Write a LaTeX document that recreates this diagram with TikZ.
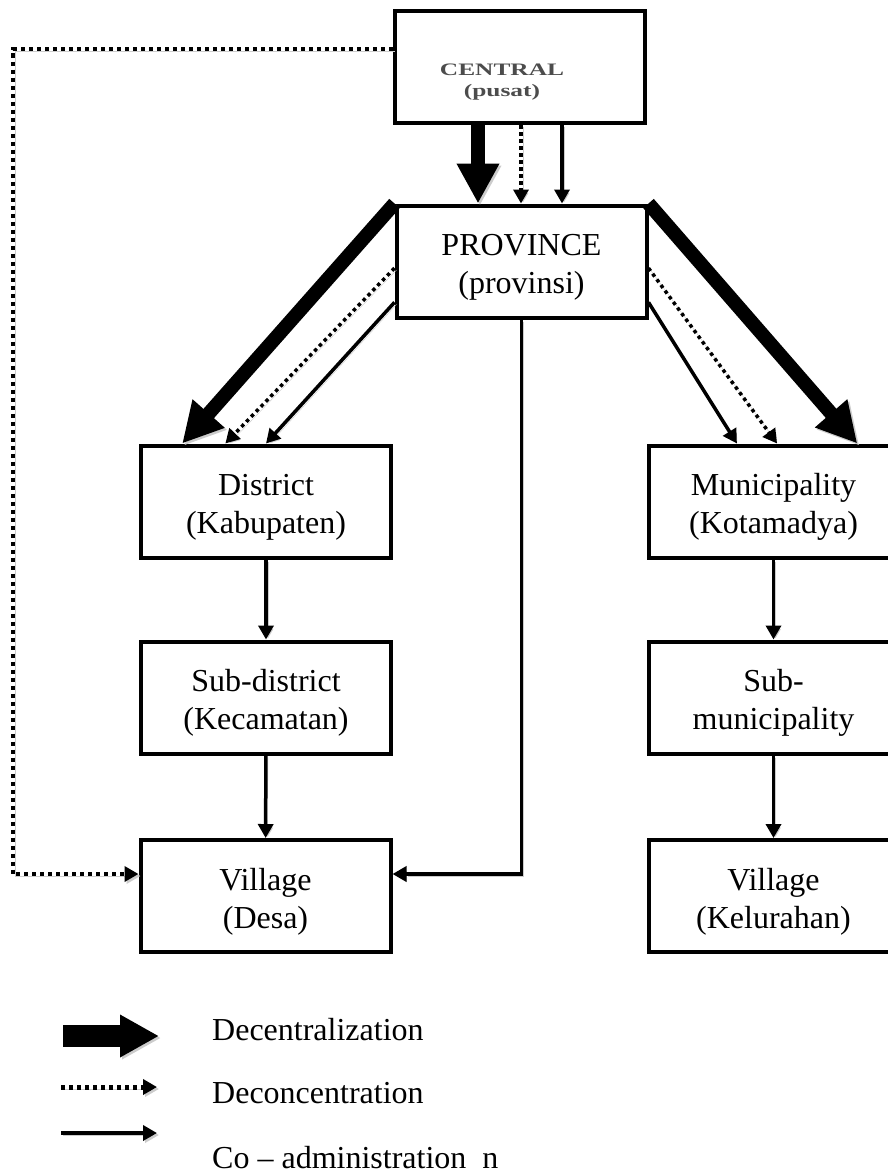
\documentclass[tikz,border=0pt]{standalone}
\usepackage{fontspec}
\setmainfont{Liberation Serif}
\usepackage{graphicx}
\usetikzlibrary{arrows.meta,calc}
\begin{document}
\begin{tikzpicture}[x=1pt,y=-1pt,
  box/.style={draw, line width=4pt, minimum width=250pt, minimum height=112pt, inner sep=0pt},
  boxtext/.style={align=center, font=\fontsize{32}{38}\selectfont, inner sep=0pt},
  shadowed/.style={preaction={draw=black!20, transform canvas={shift={(2pt,-2pt)}}}},
  bigarrow/.style={shadowed, line width=14pt, -{Triangle[width=40pt,length=40pt]}},
  dotarrow/.style={shadowed, line width=3.5pt, dash pattern=on 3.5pt off 3.5pt, -{Triangle[width=15pt,length=14pt]}},
  solidarrow/.style={shadowed, line width=3.5pt, -{Triangle[width=15pt,length=14pt]}},
  legtext/.style={anchor=base west, font=\fontsize{32}{38}\selectfont, inner sep=0pt},
  centraltext/.style={anchor=base, inner sep=0pt, text=black!70, font=\bfseries}
]
\useasboundingbox (0,0) rectangle (888,1175);
\clip (0,0) rectangle (888,1175);

% boxes
\node[box] (central) at (519.5,67) {};
\node[centraltext] (centralA) at (502,75) {\scalebox{1.45}[1]{\fontsize{17.5}{20}\selectfont CENTRAL}};
\node[centraltext] (centralB) at (502,96) {\scalebox{1.45}[1]{\fontsize{17.5}{20}\selectfont (pusat)}};

\node[box] (prov) at (521.5,261.5) {};
\node[boxtext] (provT) at ([yshift=-5.5pt]prov.center) {PROVINCE\\(provinsi)};

\node[box] (dist) at (266,501.5) {};
\node[boxtext] (distT) at ([yshift=-5.5pt]dist.center) {District\\(Kabupaten)};

\node[box] (muni) at (773.5,501.5) {};
\node[boxtext] (muniT) at ([yshift=-5.5pt]muni.center) {Municipality\\(Kotamadya)};

\node[box] (subd) at (266,697.5) {};
\node[boxtext] (subdT) at ([yshift=-5.5pt]subd.center) {Sub-district\\(Kecamatan)};

\node[box] (subm) at (773.5,697.5) {};
\node[boxtext] (submT) at ([yshift=-5.5pt]subm.center) {Sub-\\municipality};

\node[box] (desa) at (265.5,896) {};
\node[boxtext] (desaT) at ([yshift=-5.5pt]desa.center) {Village\\(Desa)};

\node[box] (kel) at (773.5,896) {};
\node[boxtext] (kelT) at ([yshift=-5.5pt]kel.center) {Village\\(Kelurahan)};

% helper coordinates
\coordinate (cx1) at (478,0);
\coordinate (cx2) at (521,0);
\coordinate (cx3) at (562,0);
\coordinate (ey) at (0,874);
\coordinate (dx) at (13,49);

% central -> province
\draw[bigarrow] (central.south -| cx1) -- (prov.north -| cx1);
\draw[dotarrow] (central.south -| cx2) -- (prov.north -| cx2);
\draw[solidarrow] (central.south -| cx3) -- (prov.north -| cx3);

% province -> district
\draw[bigarrow] (prov.north west) -- ($(dist.north west)!0.17!(dist.north east)$);
\draw[dotarrow] ($(prov.north west)!0.557!(prov.south west)$) -- ($(dist.north west)!0.34!(dist.north east)$);
\draw[solidarrow] ($(prov.north west)!0.852!(prov.south west)$) -- ($(dist.north west)!0.50!(dist.north east)$);

% province -> municipality
\draw[bigarrow] (prov.north east) -- ($(muni.north west)!0.83!(muni.north east)$);
\draw[dotarrow] ($(prov.north east)!0.557!(prov.south east)$) -- ($(muni.north west)!0.514!(muni.north east)$);
\draw[solidarrow] ($(prov.north east)!0.852!(prov.south east)$) -- ($(muni.north west)!0.356!(muni.north east)$);

% vertical chains
\draw[solidarrow] (dist) -- (subd);
\draw[solidarrow] (subd) -- (desa);
\draw[solidarrow] (muni) -- (subm);
\draw[solidarrow] (subm) -- (kel);

% province -> village (desa)
\draw[solidarrow] (prov.south) -- (prov.south |- ey) -- (desa.east |- ey);

% central -> village (desa), dotted
\draw[dotarrow, line width=4.5pt, dash pattern=on 4pt off 4pt] (central.west |- dx) -- (dx) -- (dx |- ey) -- (desa.west |- ey);

% legend
\coordinate (l1a) at (63,1036);
\coordinate (l1b) at (159,1036);
\coordinate (l2a) at (61,1087);
\coordinate (l2b) at (157,1087);
\coordinate (l3a) at (61,1133);
\coordinate (l3b) at (157,1133);
\draw[shadowed, line width=22pt, -{Triangle[width=40pt,length=39pt]}] (l1a) -- (l1b);
\draw[dotarrow, line width=5pt, dash pattern=on 4pt off 4pt] (l2a) -- (l2b);
\draw[solidarrow, line width=4.5pt] (l3a) -- (l3b);
\node[legtext] (leg1) at (212,1040) {Decentralization};
\node[legtext] (leg2) at (212,1103) {Deconcentration};
\node[legtext] (leg3) at (212,1168) {Co – administration\ \ n};
\end{tikzpicture}
\end{document}
